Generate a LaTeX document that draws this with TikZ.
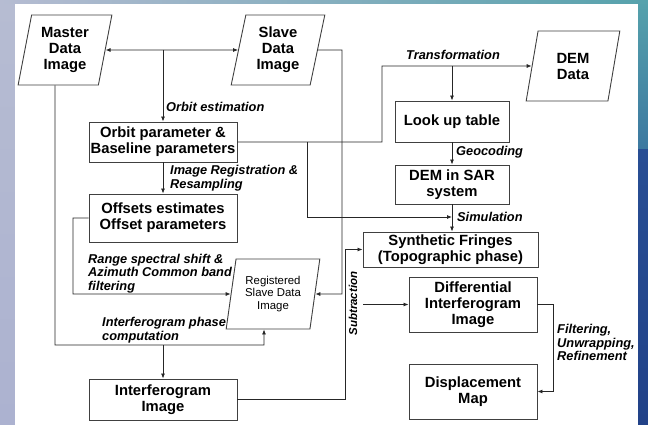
\documentclass[tikz,border=0pt]{standalone}
\usepackage{fontspec}
\setmainfont{Liberation Sans}
\usetikzlibrary{shapes.geometric,arrows.meta}
\definecolor{lstrip}{RGB}{182,188,210}
\definecolor{lstrip2}{RGB}{172,178,208}
\definecolor{rteal}{RGB}{86,162,172}
\definecolor{rteal2}{RGB}{60,120,160}
\definecolor{rblue}{RGB}{40,78,148}
\definecolor{rblue2}{RGB}{34,66,136}
\definecolor{tpurple}{RGB}{96,96,150}
\begin{document}
\begin{tikzpicture}[x=1pt,y=-1pt,
 box/.style={draw=black!75,line width=0.9pt,inner sep=1pt,align=center,font=\bfseries\fontsize{14.8}{16}\selectfont},
 para/.style={trapezium,trapezium left angle=78,trapezium right angle=102,trapezium stretches=true,draw=black!75,line width=0.9pt,inner sep=0pt,minimum width=94pt,minimum height=70pt,align=center,font=\bfseries\fontsize{14.8}{16}\selectfont},
 lbl/.style={font=\bfseries\itshape\fontsize{12.8}{13.8}\selectfont,inner sep=0pt,align=left},
 conn/.style={draw=black!85,line width=0.8pt},
 arr/.style={conn,-{Latex[length=5pt,width=4pt]}},
]
\useasboundingbox (0,0) rectangle (648,425);
% background
\shade[top color=lstrip,bottom color=lstrip2] (0,0) rectangle (15,425);
\shade[top color=rteal,bottom color=rteal2] (638,0) rectangle (648,150);
\shade[top color=rblue,bottom color=rblue2] (638,150) rectangle (648,425);
\shade[left color=lstrip,middle color=tpurple,right color=rteal] (0,0) rectangle (648,4);
\fill[white] (15,4) rectangle (638,425);

% nodes
\node[para] (m) at (65,50) {Master\\Data\\Image};
\node[para] (s) at (278,50) {Slave\\Data\\Image};
\node[para] (d) at (573,66) {DEM\\Data};
\node[para,font=\fontsize{11.4}{12.2}\selectfont] (rs) at (273,294) {Registered\\Slave Data\\Image};
\node[box,minimum width=148pt,minimum height=40pt] (o) at (163,142) {Orbit parameter \&\\Baseline parameters};
\node[box,minimum width=148pt,minimum height=48pt] (off) at (163,218) {Offsets estimates\\Offset parameters};
\node[box,minimum width=148pt,minimum height=41pt] (ii) at (163,399.5) {Interferogram\\Image};
\node[box,minimum width=114pt,minimum height=41pt] (lut) at (452,121.5) {Look up table};
\node[box,minimum width=114pt,minimum height=39pt] (dis) at (452,184.5) {DEM in SAR\\system};
\node[box,minimum width=175pt,minimum height=35pt] (sf) at (450.5,249.5) {Synthetic Fringes\\(Topographic phase)};
\node[box,minimum width=128pt,minimum height=55pt] (di) at (473,304.5) {Differential\\Interferogram\\Image};
\node[box,minimum width=128pt,minimum height=55pt] (dm) at (473,391.5) {Displacement\\Map};

% coordinates
\coordinate (jo) at (163,50);
\coordinate (sim) at (0,217);
\coordinate (ipc) at (163,345);
\coordinate (dsub) at (363,304.5);

% connectors
\draw[conn,{Latex[length=5pt,width=4pt]}-{Latex[length=5pt,width=4pt]}] (m) -- (s);
\draw[arr] (jo) -- (o);
\draw[arr] (o) -- (off);
\draw[arr] (o.east) -- (382,142) -- (382,66) -- (d);
\draw[arr] (lut.north |- d) -- (lut);
\draw[arr] (lut) -- (dis);
\draw[arr] (dis.south) -- (dis.south |- sf.north);
\draw[arr] (307,142) -- (307,217) -- (dis.south |- sim);
\draw[arr] (s) -- (342,50) -- (342,294) -- (rs);
\draw[arr] (off.west) -- (73,218) -- (73,294) -- (rs);
\draw[arr] ([xshift=-10pt]m.south) -- (55,345) -- (264,345) -- ([xshift=-9pt]rs.south);
\draw[arr] (ipc) -- (ii);
\draw[arr] (ii) -- (345,399.5) -- (345,249.5) -- (sf);
\draw[arr] (dsub) -- (di);
\draw[arr] (di) -- (553,304.5) -- (553,391.5) -- (dm);

% labels
\node[lbl,anchor=west] (lo) at (166,107) {Orbit estimation};
\node[lbl,anchor=west] (lir) at (170,178.5) {Image Registration \&\\Resampling};
\node[lbl] (lt) at (453,55) {Transformation};
\node[lbl,anchor=west] (lg) at (456,152) {Geocoding};
\node[lbl,anchor=west] (ls) at (457,217) {Simulation};
\node[lbl,anchor=west] (lr) at (88,273.5) {Range spectral shift \&\\Azimuth Common band\\filtering};
\node[lbl,anchor=west] (lip) at (102,330) {Interferogram phase\\computation};
\node[lbl,rotate=90,font=\bfseries\itshape\fontsize{11.5}{12}\selectfont] (lsub) at (353,303.5) {Subtraction};
\node[lbl,anchor=west] (lf) at (557,342.5) {Filtering,\\Unwrapping,\\Refinement};
\end{tikzpicture}
\end{document}
